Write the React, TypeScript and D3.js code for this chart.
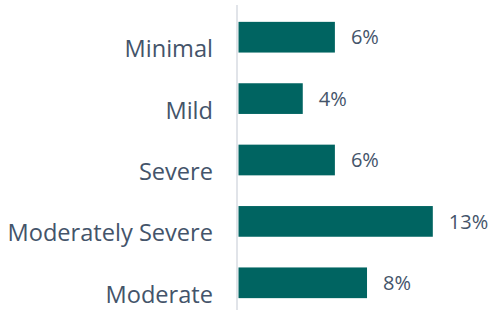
import React, { useEffect, useRef } from 'react';
import * as d3 from 'd3';

// categories top to bottom
const categories = ['Minimal', 'Mild', 'Severe', 'Moderately Severe', 'Moderate'];
// share of respondents, in percent (labels show rounded value)
const values = [6.3, 4.2, 6.3, 12.7, 8.4];

const W = 492;
const H = 310;

const App = () => {
  const ref = useRef<SVGSVGElement | null>(null);

  useEffect(() => {
    if (!ref.current) return;
    const svg = d3.select(ref.current);
    svg.selectAll('*').remove();

    const x0 = 238.5;
    const x = d3.scaleLinear().domain([0, 13]).range([x0, x0 + 13 * 15.3]);
    const y = d3.scaleBand<string>().domain(categories).range([6.5, 313.5]).paddingInner(0.5).paddingOuter(0.25);

    const font = "'Open Sans', 'Noto Sans', sans-serif";
    const textColor = '#44546A';

    svg.selectAll('rect.bar')
      .data(values)
      .enter()
      .append('rect')
      .attr('class', 'bar')
      .attr('x', x(0))
      .attr('y', (d, i) => y(categories[i])!)
      .attr('width', d => x(d) - x(0))
      .attr('height', y.bandwidth())
      .attr('fill', '#006461');

    // axis line
    svg.append('line')
      .attr('x1', x0 - 1.5)
      .attr('x2', x0 - 1.5)
      .attr('y1', 5)
      .attr('y2', H)
      .attr('stroke', '#E1E4E9')
      .attr('stroke-width', 2);

    svg.selectAll('text.cat')
      .data(categories)
      .enter()
      .append('text')
      .attr('class', 'cat')
      .attr('x', 213)
      .attr('y', d => y(d)! + y.bandwidth() / 2 + 20)
      .attr('text-anchor', 'end')
      .attr('font-family', font)
      .attr('font-size', 23.6)
      .attr('fill', textColor)
      .text(d => d);

    svg.selectAll('text.val')
      .data(values)
      .enter()
      .append('text')
      .attr('class', 'val')
      .attr('x', d => x(d) + 16)
      .attr('y', (d, i) => y(categories[i])! + y.bandwidth() / 2)
      .attr('dy', '0.36em')
      .attr('font-family', font)
      .attr('font-size', 20)
      .attr('fill', textColor)
      .text(d => `${Math.round(d)}%`);
  }, []);

  return (
    <svg
      ref={ref}
      width={W}
      height={H}
      style={{ position: 'absolute', left: 0, top: 0, background: '#fff' }}
    />
  );
};

export default App;
